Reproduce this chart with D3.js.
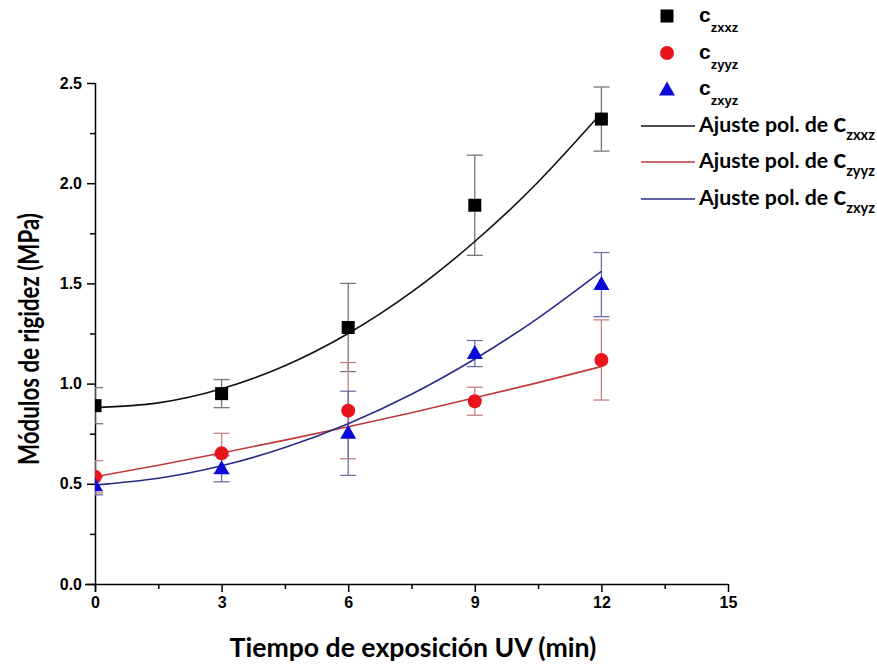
<!DOCTYPE html>
<html><head><meta charset="utf-8">
<script src="https://cdn.jsdelivr.net/npm/d3@7"></script>
<style>body{margin:0;background:#fff}svg{display:block}</style>
</head><body>
<svg id="c" width="877" height="664"></svg>
<script>
const times = [0, 3, 6, 9, 12];
const zxxz = [0.89, 0.95, 1.28, 1.89, 2.32];
const zxxzErr = [0.09, 0.07, 0.22, 0.25, 0.16];
const zyyz = [0.535, 0.652, 0.865, 0.912, 1.118];
const zyyzErr = [0.08, 0.10, 0.24, 0.07, 0.20];
const zxyz = [0.49, 0.575, 0.752, 1.15, 1.494];
const zxyzErr = [0.045, 0.065, 0.21, 0.065, 0.16];

const fitTimes = [0, 1.5, 3, 4.5, 6, 7.5, 9, 10.5, 12];
const fitZxxz = [0.88, 0.904, 0.974, 1.089, 1.25, 1.456, 1.709, 2.006, 2.35];
const fitZyyz = [0.535, 0.593, 0.654, 0.718, 0.785, 0.855, 0.929, 1.005, 1.085];
const fitZxyz = [0.494, 0.528, 0.590, 0.681, 0.80, 0.947, 1.123, 1.327, 1.56];

const xTicks = [0, 3, 6, 9, 12, 15];
const yTicks = [0.0, 0.5, 1.0, 1.5, 2.0, 2.5];

const svg = d3.select("#c");
const L = 95, R = 728, T = 83, B = 584;
const x = d3.scaleLinear().domain([0, 15]).range([L, R]);
const y = d3.scaleLinear().domain([0, 2.5]).range([B, T]);

svg.append("defs").append("clipPath").attr("id", "clip")
  .append("rect").attr("x", L).attr("y", 0).attr("width", 877 - L).attr("height", B);

function fitText(sel, target) {
  const n = sel.node();
  const fs = parseFloat(sel.attr("font-size"));
  const w = n.getComputedTextLength();
  if (w > 0) sel.attr("font-size", (fs * target / w).toFixed(2));
}

// axes
const xAxis = d3.axisBottom(x).tickValues(xTicks).tickSize(8).tickPadding(5).tickFormat(d3.format("d"));
const gx = svg.append("g").attr("transform", `translate(0,${B})`).call(xAxis);
const xMinor = d3.axisBottom(x).tickValues(d3.range(1.5, 15, 3)).tickSize(5).tickFormat("");
svg.append("g").attr("transform", `translate(0,${B})`).call(xMinor).select(".domain").remove();
const yAxis = d3.axisLeft(y).tickValues(yTicks).tickSize(8).tickPadding(5).tickFormat(d3.format(".1f"));
const gy = svg.append("g").attr("transform", `translate(${L},0)`).call(yAxis);
const yMinor = d3.axisLeft(y).tickValues(d3.range(0.25, 2.5, 0.5)).tickSize(5).tickFormat("");
svg.append("g").attr("transform", `translate(${L},0)`).call(yMinor).select(".domain").remove();

svg.selectAll(".domain").attr("stroke", "#000").attr("stroke-width", 1.5);
svg.selectAll(".tick line").attr("stroke", "#000").attr("stroke-width", 1.5);
gx.selectAll("path.domain").attr("d", `M${L - 10},0.5H${R}`);
gy.selectAll("path.domain").attr("d", `M0.5,${T}V${B + 8}`);
svg.selectAll(".tick text").attr("font-family", "Liberation Sans, Arial, sans-serif")
  .attr("font-weight", "bold").attr("font-size", 16).attr("fill", "#000");

// axis titles
const xt = svg.append("text").attr("x", 413).attr("y", 657).attr("text-anchor", "middle")
  .attr("font-family", "Lato, sans-serif").attr("font-weight", "bold").attr("font-size", 24)
  .text("Tiempo de exposición UV (min)");
fitText(xt, 367);
const yt = svg.append("text").attr("transform", "translate(39,339) rotate(-90) scale(1,1.3)").attr("text-anchor", "middle")
  .attr("font-family", "Lato, sans-serif").attr("font-weight", "bold").attr("font-size", 22)
  .text("Módulos de rigidez (MPa)");
fitText(yt, 252);

const series = [
  {vals: zxxz, err: zxxzErr, fit: fitZxxz, color: "#000", line: "#111", errc: "#777", shape: "square", name: "zxxz"},
  {vals: zyyz, err: zyyzErr, fit: fitZyyz, color: "#e8141b", line: "#c0393b", errc: "#c98080", shape: "circle", name: "zyyz"},
  {vals: zxyz, err: zxyzErr, fit: fitZxyz, color: "#0a0ad8", line: "#2b2b86", errc: "#7070a8", shape: "triangle", name: "zxyz"}
];

const plot = svg.append("g").attr("clip-path", "url(#clip)");
const line = d3.line().x((d, i) => x(fitTimes[i])).y(d => y(d)).curve(d3.curveNatural);

function marker(g, s, cx, cy) {
  if (s.shape === "square") g.append("rect").attr("x", cx - 6.5).attr("y", cy - 6.5).attr("width", 13).attr("height", 13).attr("fill", s.color);
  else if (s.shape === "circle") g.append("circle").attr("cx", cx).attr("cy", cy).attr("r", 7).attr("fill", s.color);
  else g.append("path").attr("d", `M${cx},${cy - 8.5}L${cx + 8},${cy + 5.5}L${cx - 8},${cy + 5.5}Z`).attr("fill", s.color);
}

// error bars
series.forEach(s => {
  const g = plot.append("g").attr("stroke", s.errc).attr("stroke-width", 1.3);
  times.forEach((t, i) => {
    const cx = x(t), y1 = y(s.vals[i] + s.err[i]), y2 = y(s.vals[i] - s.err[i]);
    g.append("line").attr("x1", cx).attr("x2", cx).attr("y1", y1).attr("y2", y2);
    g.append("line").attr("x1", cx - 8).attr("x2", cx + 8).attr("y1", y1).attr("y2", y1);
    g.append("line").attr("x1", cx - 8).attr("x2", cx + 8).attr("y1", y2).attr("y2", y2);
  });
});
// fits
series.forEach(s => {
  plot.append("path").datum(s.fit).attr("d", line).attr("fill", "none").attr("stroke", s.line).attr("stroke-width", 1.6);
});
// markers
series.forEach(s => {
  const g = plot.append("g");
  times.forEach((t, i) => marker(g, s, x(t), y(s.vals[i])));
});

// legend
const lg = svg.append("g").attr("font-family", "Liberation Sans, Arial, sans-serif").attr("font-weight", "bold");
const symY = [16, 53, 89];
series.forEach((s, i) => {
  marker(lg, s, 667, symY[i] + (s.shape === "triangle" ? 1 : 0));
  const t = lg.append("text").attr("x", 699).attr("y", symY[i] + 6);
  t.append("tspan").attr("font-size", 21).text("c");
  t.append("tspan").attr("font-size", 13).attr("dy", 10).text(s.name);
});
const lineY = [126, 162, 199];
series.forEach((s, i) => {
  lg.append("line").attr("x1", 641).attr("x2", 695).attr("y1", lineY[i]).attr("y2", lineY[i])
    .attr("stroke", s.line).attr("stroke-width", 1.6);
  const t = lg.append("text").attr("x", 699).attr("y", lineY[i] + 6).attr("font-family", "Lato, sans-serif");
  const a = t.append("tspan").attr("font-size", 19).text("Ajuste pol. de ");
  const c = t.append("tspan").attr("font-size", 24).text("c");
  const sub = t.append("tspan").attr("font-size", 13).attr("dy", 8).text(s.name);
  const w = t.node().getComputedTextLength();
  if (w > 0) {
    const k = 176 / w;
    a.attr("font-size", 19 * k); c.attr("font-size", 24 * k); sub.attr("font-size", 13 * k);
  }
});
</script>
</body></html>
